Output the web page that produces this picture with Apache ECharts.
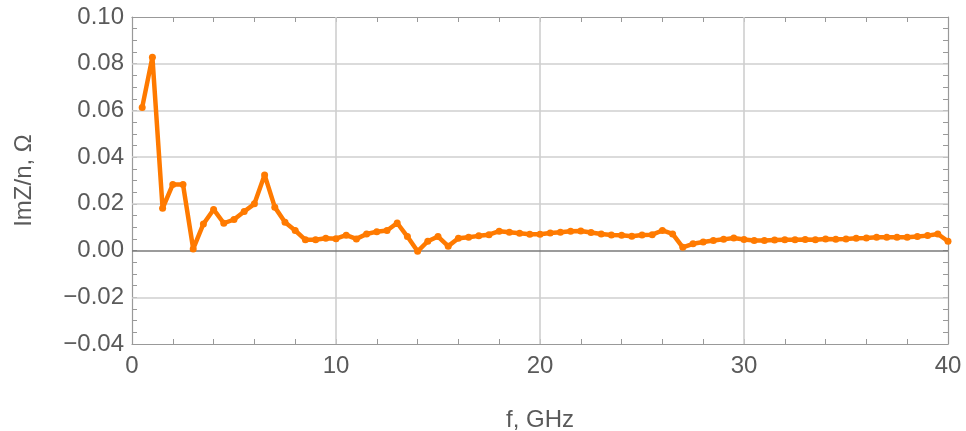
<!DOCTYPE html>
<html><head><meta charset="utf-8">
<script src="https://cdn.jsdelivr.net/npm/echarts@6/dist/echarts.min.js"></script>
<style>html,body{margin:0;padding:0;background:#fff}#c{width:966px;height:431px}</style>
</head><body><div id="c"></div>
<script>
const freqGHz = [0.5,1,1.5,2,2.5,3,3.5,4,4.5,5,5.5,6,6.5,7,7.5,8,8.5,9,9.5,10,
  10.5,11,11.5,12,12.5,13,13.5,14,14.5,15,15.5,16,16.5,17,17.5,18,18.5,19,19.5,20,
  20.5,21,21.5,22,22.5,23,23.5,24,24.5,25,25.5,26,26.5,27,27.5,28,28.5,29,29.5,30,
  30.5,31,31.5,32,32.5,33,33.5,34,34.5,35,35.5,36,36.5,37,37.5,38,38.5,39,39.5,40];
const imZn = [0.0613,0.0828,0.0181,0.0283,0.0283,0.0007,0.0114,0.0176,0.0117,0.0133,
  0.0167,0.0200,0.0324,0.0186,0.0121,0.0086,0.0046,0.0046,0.0053,0.0051,
  0.0066,0.0050,0.0071,0.0081,0.0086,0.0118,0.0060,-0.0003,0.0040,0.0060,
  0.0019,0.0053,0.0057,0.0063,0.0068,0.0083,0.0078,0.0074,0.0070,0.0070,
  0.0075,0.0078,0.0083,0.0084,0.0077,0.0071,0.0067,0.0066,0.0061,0.0067,
  0.0068,0.0086,0.0071,0.0014,0.0029,0.0037,0.0043,0.0048,0.0054,0.0047,
  0.0043,0.0043,0.0045,0.0046,0.0046,0.0047,0.0046,0.0050,0.0049,0.0050,
  0.0053,0.0054,0.0057,0.0057,0.0057,0.0057,0.0060,0.0064,0.0071,0.0040];
const xTicks = [0,10,20,30,40];
const yTicks = [-0.04,-0.02,0,0.02,0.04,0.06,0.08,0.10];

const frameColor = '#999';
const gridColor = '#cfcfcf';
const zeroColor = '#7a7a7a';
const textColor = '#5a5a5a';
const font = 'Liberation Sans, Arial, sans-serif';
const xMin = xTicks[0], xMax = xTicks[xTicks.length-1];
const yMin = yTicks[0], yMax = yTicks[yTicks.length-1];
const isXMajor = v => Math.abs(Math.round(v) % 10) === 0;
const isYMajor = v => Math.abs(Math.round(v*1000) % 20) === 0;
const fmtX = v => isXMajor(v) ? String(Math.round(v)) : '';
const fmtY = v => isYMajor(v) ? v.toFixed(2).replace('-', '\u2212') : '';

function frameAxis(kind, pos, showLabel) {
  const a = {
    type:'value', position:pos, offset:0,
    min: kind==='x' ? xMin : yMin, max: kind==='x' ? xMax : yMax,
    interval: kind==='x' ? 2 : 0.005,
    axisLine:{show:true, onZero:false, lineStyle:{color:frameColor, width:1.2}},
    axisTick:{show:true, inside:true, length:5, lineStyle:{color:frameColor, width:1}},
    splitLine:{show:false},
    axisLabel:{show:showLabel, color:textColor, fontSize:24, fontFamily:font,
      margin: kind==='x' ? 10 : 8, formatter: kind==='x' ? fmtX : fmtY,
      showMinLabel:true, showMaxLabel:true, hideOverlap:false}
  };
  if (showLabel) {
    a.name = kind==='x' ? 'f, GHz' : 'ImZ/n, \u03A9';
    a.nameLocation = 'middle';
    a.nameGap = kind==='x' ? 64 : 96;
    a.nameTextStyle = {color:textColor, fontSize:24, fontFamily:font};
  }
  return a;
}

const gridLines = [];
xTicks.slice(1, -1).forEach(v => gridLines.push({xAxis:v, lineStyle:{color:gridColor, width:1.6}}));
yTicks.slice(1, -1).forEach(v => gridLines.push({yAxis:v,
  lineStyle:{color: v===0 ? zeroColor : gridColor, width:1.6}}));

const chart = echarts.init(document.getElementById('c'), null, {renderer:'canvas'});
chart.setOption({
  animation:false,
  backgroundColor:'#fff',
  grid:{left:132, right:18, top:17, bottom:87, containLabel:false, outerBoundsMode:'none'},
  xAxis:[frameAxis('x','bottom',true), frameAxis('x','top',false)],
  yAxis:[frameAxis('y','left',true), frameAxis('y','right',false)],
  series:[{
    type:'line', xAxisIndex:0, yAxisIndex:0, z:1,
    data: freqGHz.map((f,i)=>[f, imZn[i]]),
    showSymbol:false, lineStyle:{opacity:0}, silent:true,
    markLine:{silent:true, symbol:'none', label:{show:false}, animation:false,
      lineStyle:{type:'solid'}, data:gridLines}
  },{
    type:'line', xAxisIndex:0, yAxisIndex:0, z:5,
    data: freqGHz.map((f,i)=>[f, imZn[i]]),
    showSymbol:true, symbol:'circle', symbolSize:7,
    itemStyle:{color:'#ff7a00'},
    lineStyle:{color:'#ff7a00', width:4.5}
  }]
});
</script></body></html>
